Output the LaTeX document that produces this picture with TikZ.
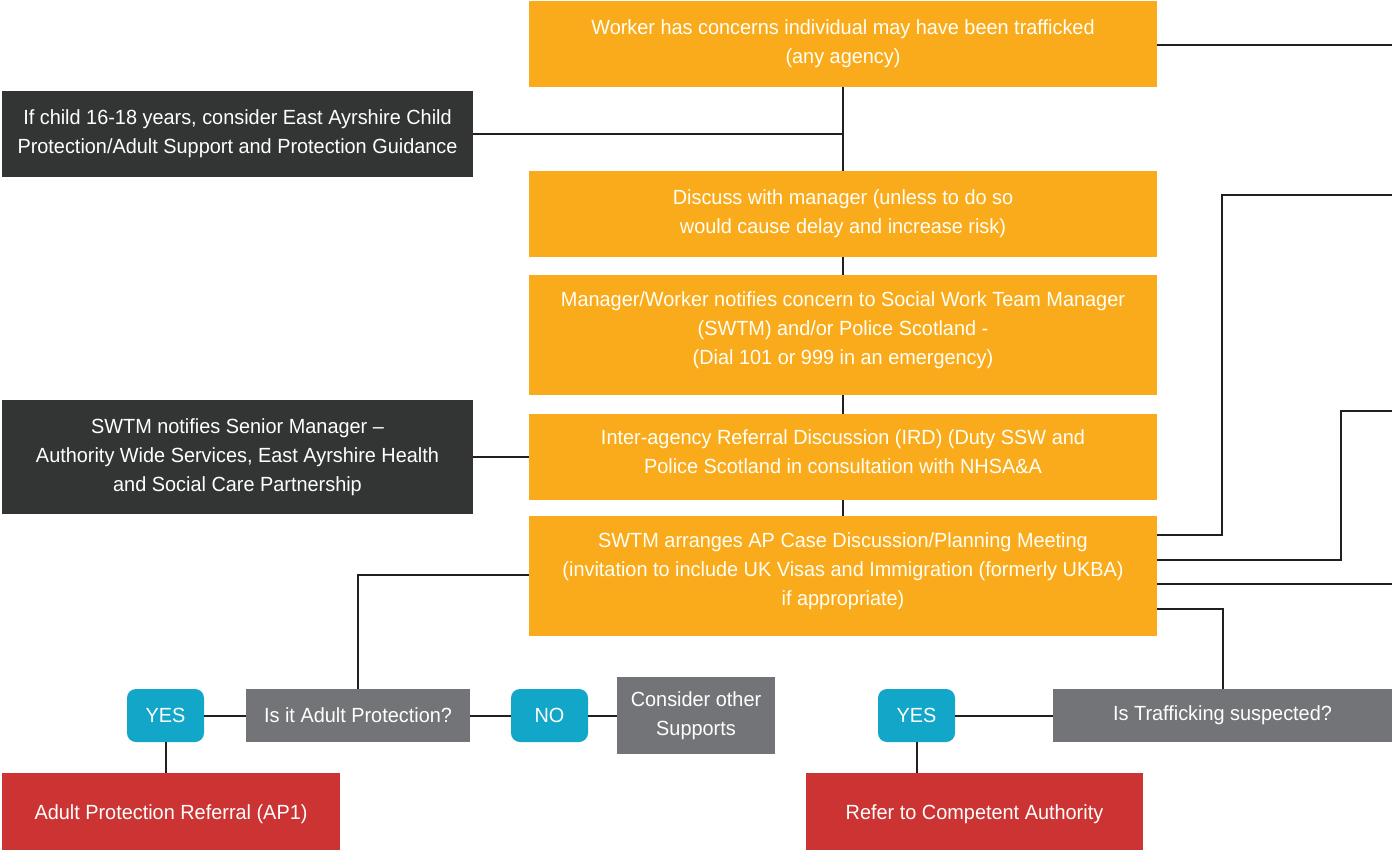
\documentclass[tikz,border=0pt]{standalone}
\usepackage{fontspec}
\setmainfont[FakeStretch=0.97]{Liberation Sans}
\definecolor{cOrange}{HTML}{F9AB1C}
\definecolor{cDark}{HTML}{333434}
\definecolor{cGray}{HTML}{737477}
\definecolor{cCyan}{HTML}{12A6C9}
\definecolor{cRed}{HTML}{CC3333}
\definecolor{cLine}{HTML}{231F20}
\tikzset{
  box/.style={rectangle, inner sep=0pt, align=center, text=white,
    font=\fontsize{20.5}{29}\selectfont},
  orangebox/.style={box, fill=cOrange, text=white!97!yellow, minimum width=628pt},
  darkbox/.style={box, fill=cDark, minimum width=471pt},
  graybox/.style={box, fill=cGray},
  redbox/.style={box, fill=cRed, minimum height=77pt, text height=21pt, text depth=4.5pt},
  answer/.style={box, fill=cCyan, rounded corners=9pt, minimum width=77pt, minimum height=53pt},
  conn/.style={draw=cLine, line width=2pt}
}
\begin{document}
\begin{tikzpicture}[x=1pt,y=-1pt]
\useasboundingbox (0,0) rectangle (1392,854);
% orange column
\node[orangebox, minimum height=86pt] (b1) at (843,44) {Worker has concerns individual may have been trafficked\\(any agency)};
\node[orangebox, minimum height=86pt] (b2) at (843,214) {Discuss with manager (unless to do so\\would cause delay and increase risk)};
\node[orangebox, minimum height=120pt] (b3) at (843,335) {Manager/Worker notifies concern to Social Work Team Manager\\(SWTM) and/or Police Scotland -\\(Dial 101 or 999 in an emergency)\\[-15pt]};
\node[orangebox, minimum height=86pt] (b4) at (843,457) {Inter-agency Referral Discussion (IRD) (Duty SSW and\\Police Scotland in consultation with NHSA\&A\\[-18pt]};
\node[orangebox, minimum height=120pt] (b5) at (843,576) {SWTM arranges AP Case Discussion/Planning Meeting\\(invitation to include UK Visas and Immigration (formerly UKBA)\\if appropriate)\\[-15pt]};
% dark side boxes
\node[darkbox, minimum height=86pt] (child) at (237.5,134) {If child 16-18 years, consider East Ayrshire Child\\Protection/Adult Support and Protection Guidance};
\node[darkbox, minimum height=114pt] (swtm) at (237.5,457) {SWTM notifies Senior Manager --\\Authority Wide Services, East Ayrshire Health\\and Social Care Partnership};
% bottom left
\node[graybox, minimum width=224pt, minimum height=53pt] (ap) at (358,715.5) {Is it Adult Protection?};
\node[answer] (yes1) at (165.5,715.5) {YES};
\node[answer] (no) at (549.5,715.5) {NO};
\node[graybox, minimum width=158pt, minimum height=77pt] (other) at (696,715.5) {Consider other\\Supports};
\node[redbox, minimum width=338pt] (apref) at (171,811.5) {Adult Protection Referral (AP1)};
% bottom right
\node[graybox, minimum width=339pt, minimum height=53pt] (traf) at (1222.5,715.5) {Is Trafficking suspected?};
\node[answer] (yes2) at (916.5,715.5) {YES};
\node[redbox, minimum width=337pt] (ref2) at (974.5,811.5) {Refer to Competent Authority};
% free ends on right edge
\coordinate (r0) at (1392,45);
\coordinate (r1) at (1392,195);
\coordinate (r2) at (1392,411);
\coordinate (r3) at (1392,584);
% connectors
\draw[conn] (b1.east |- r0) -- (r0);
\draw[conn] (b1.south) -- (b2.north);
\draw[conn] (child.east) -- (child.east -| b1.south);
\draw[conn] (b2.south) -- (b3.north);
\draw[conn] (b3.south) -- (b4.north);
\draw[conn] (b4.south) -- (b5.north);
\draw[conn] (swtm.east) -- (b4.west);
\draw[conn] ([yshift=41pt]b5.east) -- ++(65,0) |- (r1);
\draw[conn] ([yshift=16pt]b5.east) -- ++(184,0) |- (r2);
\draw[conn] (b5.east |- r3) -- (r3);
\draw[conn] ([yshift=-33pt]b5.east) -| (traf.north);
\draw[conn] ([yshift=1pt]b5.west) -| (ap.north);
\draw[conn] (ap.west) -- (yes1.east);
\draw[conn] (yes1.south) -- (yes1.south |- apref.north);
\draw[conn] (ap.east) -- (no.west);
\draw[conn] (no.east) -- (other.west);
\draw[conn] (traf.west) -- (yes2.east);
\draw[conn] (yes2.south) -- (yes2.south |- ref2.north);
\end{tikzpicture}
\end{document}
